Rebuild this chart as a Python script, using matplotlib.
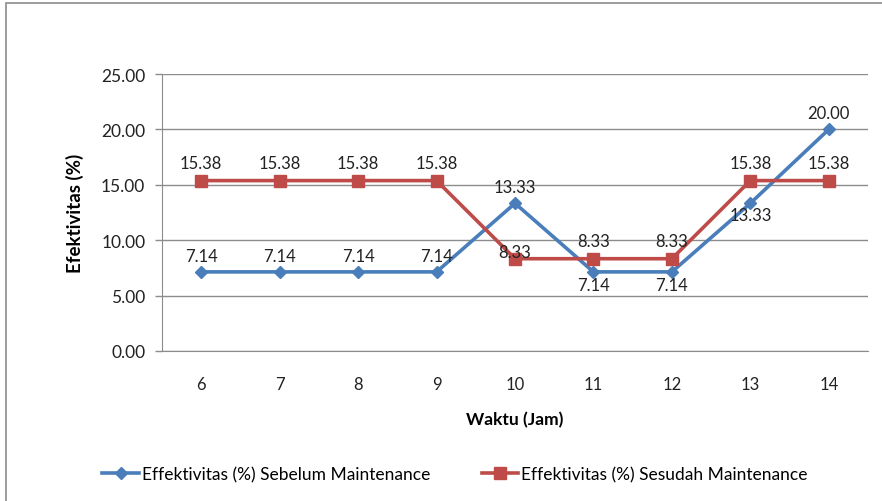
import matplotlib.pyplot as plt
from matplotlib.patches import Rectangle

plt.rcParams['font.family'] = ['Lato', 'DejaVu Sans']

jam = [6, 7, 8, 9, 10, 11, 12, 13, 14]
sebelum = [7.14, 7.14, 7.14, 7.14, 13.33, 7.14, 7.14, 13.33, 20.00]
sesudah = [15.38, 15.38, 15.38, 15.38, 8.33, 8.33, 8.33, 15.38, 15.38]
yticks = [0, 5, 10, 15, 20, 25]

biru = '#4a7ebb'
merah = '#be4b48'

fig = plt.figure(figsize=(8.82, 5.02), dpi=100)
# bingkai chart area (terpotong di kanan/bawah)
fig.patches.append(Rectangle((6 / 882, -0.05), 1.0, 1 - 4 / 502 + 0.05,
                             transform=fig.transFigure, fill=False,
                             edgecolor='#8c8c8c', linewidth=1.2))

ax = fig.add_axes([162 / 882, 1 - 352 / 502, (868 - 162) / 882, (352 - 75) / 502])

ax.plot(jam, sebelum, color=biru, lw=2.6, marker='D', ms=6.5,
        label='Effektivitas (%) Sebelum Maintenance', zorder=3)
ax.plot(jam, sesudah, color=merah, lw=2.6, marker='s', ms=9,
        label='Effektivitas (%) Sesudah Maintenance', zorder=3)

# posisi label data (titik offset)
off_biru = [6, 6, 6, 6, 6, -4, -4, -3, 6]
off_sesudah = [7, 7, 7, 7, -1, 7, 7, 7, 7]
for x, y, o in zip(jam, sebelum, off_biru):
    ax.annotate('%.2f' % y, (x, y), xytext=(0, o), textcoords='offset points',
                ha='center', va='bottom' if o > 0 else 'top', fontsize=12,
                color='#222222', zorder=4)
for x, y, o in zip(jam, sesudah, off_sesudah):
    ax.annotate('%.2f' % y, (x, y), xytext=(0, o), textcoords='offset points',
                ha='center', va='bottom', fontsize=12, color='#222222', zorder=4)

ax.set_xlim(5.5, 14.5)
ax.set_ylim(0, 25)
ax.set_yticks(yticks)
ax.set_yticklabels(['%.2f' % v for v in yticks])
ax.set_xticks(jam)
ax.set_xticklabels([str(j) for j in jam])
ax.tick_params(axis='x', length=0, pad=18, labelsize=12, colors='#222222')
ax.tick_params(axis='y', length=5, width=1, color='#8c8c8c', pad=7,
               labelsize=12.5, labelcolor='#222222')
ax.grid(axis='y', color='#8c8c8c', lw=1)
ax.set_axisbelow(True)
for s in ['top', 'right']:
    ax.spines[s].set_visible(False)
ax.spines['left'].set_color('#8c8c8c')
ax.spines['bottom'].set_color('#8c8c8c')

ax.set_xlabel('Waktu (Jam)', fontsize=12.5, fontweight='bold', labelpad=14)
ax.set_ylabel('Efektivitas (%)', fontsize=13.5, fontweight='bold', labelpad=12)

fig.legend(loc='center', bbox_to_anchor=(455 / 882, 1 - 475 / 502), ncol=2,
           frameon=False, fontsize=12.5, handlelength=2.1, handletextpad=0.15,
           columnspacing=3.0)

fig.savefig('out.png', dpi=100)
